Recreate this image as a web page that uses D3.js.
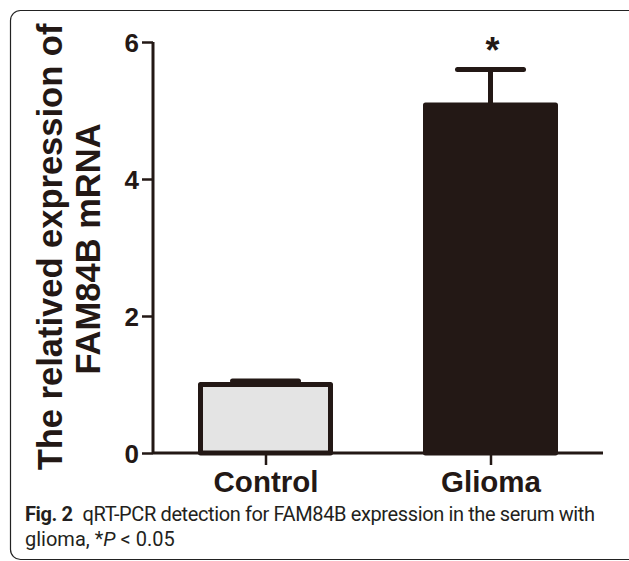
<!DOCTYPE html>
<html>
<head>
<meta charset="utf-8">
<script src="https://cdn.jsdelivr.net/npm/d3@7"></script>
<style>
  body { margin: 0; background: #fff; }
  svg { display: block; }
</style>
</head>
<body>
<div id="chart"></div>
<script>
const width = 629;
const height = 561;

// Data
const groups = ["Control", "Glioma"];
const means = [1.0, 5.08];
const errors = [0.05, 0.52];
const fills = ["#e4e4e4", "#231815"];
const yTicks = [0, 2, 4, 6];
const yLabelLines = ["The relatived expression of", "FAM84B mRNA"];

const ink = "#231815";

const svg = d3.select("#chart").append("svg")
  .attr("width", width)
  .attr("height", height);

// Outer frame, rounded, running off the right edge
svg.append("rect")
  .attr("x", 10.5)
  .attr("y", 10.5)
  .attr("width", 640)
  .attr("height", 549)
  .attr("rx", 10)
  .attr("fill", "none")
  .attr("stroke", "#222")
  .attr("stroke-width", 1.2);

const y = d3.scaleLinear().domain([0, 6]).range([453, 42]);
const x = d3.scalePoint().domain(groups).range([153, 603]).padding(0.5);
const barWidth = 130;

// y axis
const yAxis = svg.append("g")
  .attr("transform", "translate(153,0)")
  .call(d3.axisLeft(y).tickValues(yTicks).tickFormat(d3.format("d")).tickSize(11).tickPadding(3));
yAxis.select(".domain").attr("stroke", ink).attr("stroke-width", 3).attr("d", `M0,${y(6)}V${y(0)}`);
yAxis.selectAll(".tick line").attr("stroke", ink).attr("stroke-width", 2.5);
yAxis.selectAll(".tick text")
  .attr("fill", ink)
  .style("font-family", "Liberation Sans, Arial, sans-serif")
  .style("font-weight", "bold")
  .style("font-size", "26px")
  .attr("dy", "0.35em");

// x axis
const xAxis = svg.append("g")
  .attr("transform", `translate(0,${y(0)})`)
  .call(d3.axisBottom(x).tickSize(12).tickPadding(6));
xAxis.select(".domain").attr("stroke", ink).attr("stroke-width", 3).attr("d", "M153,0H603");
xAxis.selectAll(".tick line").attr("stroke", ink).attr("stroke-width", 2.5);
xAxis.selectAll(".tick text")
  .attr("fill", ink)
  .style("font-family", "Liberation Sans, Arial, sans-serif")
  .style("font-weight", "bold")
  .style("font-size", "29.5px");

// error bars (drawn under the bars)
const errG = svg.append("g");
groups.forEach((g, i) => {
  const cx = x(g);
  errG.append("line")
    .attr("x1", cx).attr("x2", cx)
    .attr("y1", y(means[i])).attr("y2", y(means[i] + errors[i]))
    .attr("stroke", ink).attr("stroke-width", 5);
  errG.append("line")
    .attr("x1", cx - 33).attr("x2", cx + 33)
    .attr("y1", y(means[i] + errors[i])).attr("y2", y(means[i] + errors[i]))
    .attr("stroke", ink).attr("stroke-width", 5)
    .attr("stroke-linecap", "round");
});

// bars
svg.append("g")
  .selectAll("rect")
  .data(groups)
  .join("rect")
    .attr("x", d => x(d) - barWidth / 2)
    .attr("y", (d, i) => y(means[i]))
    .attr("width", barWidth)
    .attr("height", (d, i) => y(0) - y(means[i]))
    .attr("fill", (d, i) => fills[i])
    .attr("stroke", ink)
    .attr("stroke-width", 5)
    .attr("stroke-linejoin", "round");

// significance star
svg.append("text")
  .attr("x", x("Glioma") + 2)
  .attr("y", y(means[1] + errors[1]) - 6)
  .attr("text-anchor", "middle")
  .attr("fill", ink)
  .style("font-family", "Liberation Sans, Arial, sans-serif")
  .style("font-weight", "bold")
  .style("font-size", "36px")
  .text("*");

// y axis title, two rotated lines
svg.append("g")
  .selectAll("text")
  .data(yLabelLines)
  .join("text")
    .attr("transform", (d, i) => `translate(${62 + i * 38},${247 + i * 2}) rotate(-90)`)
    .attr("text-anchor", "middle")
    .attr("fill", ink)
    .style("font-family", "Liberation Sans, Arial, sans-serif")
    .style("font-weight", "bold")
    .style("font-size", "34.5px")
    .text(d => d);

// caption
const cap = svg.append("g")
  .style("font-family", "Roboto, sans-serif")
  .style("font-size", "20px")
  .attr("fill", "#231f20");
const line1 = cap.append("text").attr("x", 25).attr("y", 521)
  .attr("textLength", 570).attr("lengthAdjust", "spacing");
line1.append("tspan").style("font-weight", "bold").text("Fig. 2");
line1.append("tspan").text("\u2002qRT-PCR detection for FAM84B expression in the serum with");
const line2 = cap.append("text").attr("x", 25).attr("y", 546);
line2.append("tspan").text("glioma, *");
line2.append("tspan").style("font-style", "italic").text("P");
line2.append("tspan").text(" < 0.05");
</script>
</body>
</html>
